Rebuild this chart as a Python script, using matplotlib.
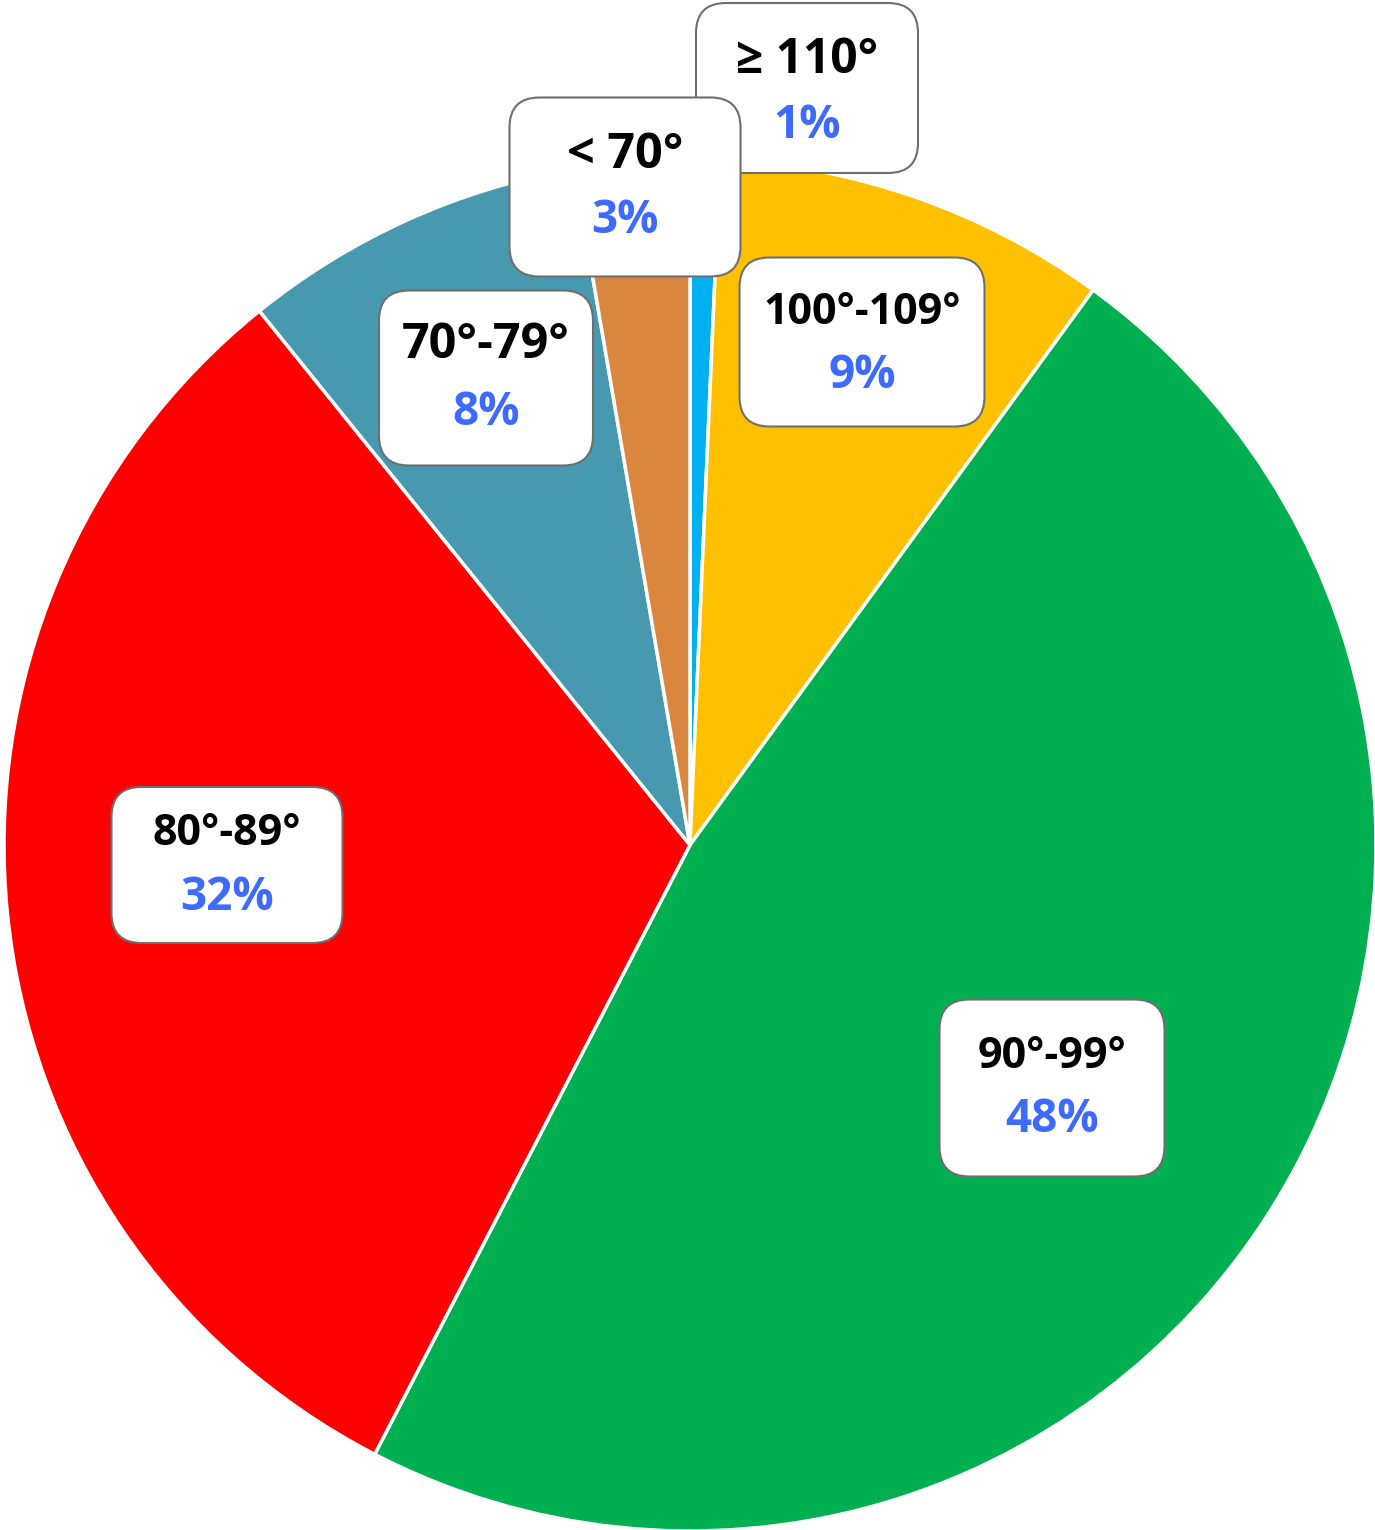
import matplotlib
matplotlib.use("Agg")
import matplotlib.pyplot as plt
from matplotlib.patches import FancyBboxPatch

# Data (clockwise from 12 o'clock)
categories = ["≥ 110°", "100°-109°", "90°-99°", "80°-89°", "70°-79°", "< 70°"]
values = [0.7, 9.3, 47.6, 31.6, 8.1, 2.7]
pct_labels = ["1%", "9%", "48%", "32%", "8%", "3%"]
colors = ["#00B0F0", "#FFC000", "#00B050", "#FF0000", "#4799B0", "#D9873F"]

# Layout: label box centers, sizes and text rows (pixel coords, y downwards)
box_centers = [(807, 88), (862, 342), (1052, 1088), (227, 865), (486, 378), (625, 187)]
box_sizes = [(222, 170), (245, 169), (225, 177), (231, 156), (214, 175), (231, 179)]
cat_rows = [60, 312, 1057, 833, 345, 155]
pct_rows = [125, 375, 1120, 897, 412, 220]
cat_sizes = [34.5, 31, 31, 31, 35, 35]

W, H = 1375, 1530
fig = plt.figure(figsize=(W / 100, H / 100), dpi=100)
ax = fig.add_axes([0, 0, 1, 1])

cx, cy, r = 690, H - 845, 686
ax.pie(values, colors=colors, startangle=90, counterclock=False,
       center=(cx, cy), radius=r, frame=True,
       wedgeprops=dict(edgecolor="white", linewidth=2.5))
ax.set_xlim(0, W)
ax.set_ylim(0, H)
ax.set_aspect("equal")
ax.axis("off")

for i in range(len(categories)):
    bx, by = box_centers[i]
    bw, bh = box_sizes[i]
    y = H - by
    patch = FancyBboxPatch((bx - bw / 2 + 18, y - bh / 2 + 18), bw - 36, bh - 36,
                           boxstyle="round,pad=18,rounding_size=30",
                           facecolor="white", edgecolor="#6e6e6e", linewidth=1.5,
                           zorder=5)
    ax.add_patch(patch)
    ax.text(bx, H - cat_rows[i], categories[i], ha="center", va="center",
            fontsize=cat_sizes[i], family="Open Sans", fontweight="bold",
            color="black", zorder=6)
    ax.text(bx, H - pct_rows[i], pct_labels[i], ha="center", va="center",
            fontsize=33, family="Open Sans", fontweight="bold",
            color="#3D6BFF", zorder=6)

fig.savefig("out.png", dpi=100)
